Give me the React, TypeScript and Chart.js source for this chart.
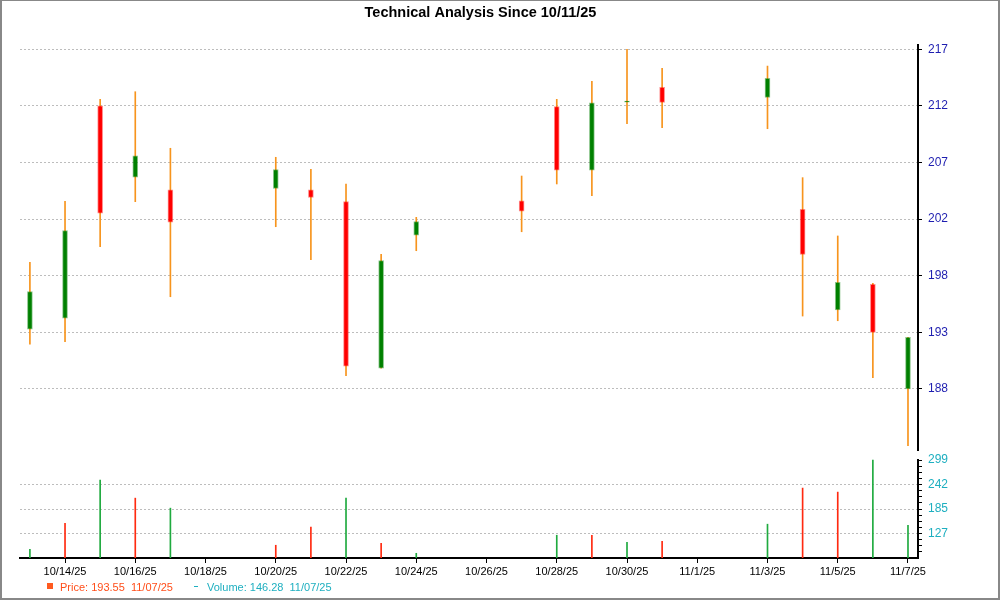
import React, { useEffect, useRef } from "react";
import { Chart, registerables } from "chart.js";

Chart.register(...registerables);

// ---- data ----
const dates = [
  "10/13/25", "10/14/25", "10/15/25", "10/16/25", "10/17/25",
  "10/20/25", "10/21/25", "10/22/25", "10/23/25", "10/24/25",
  "10/27/25", "10/28/25", "10/29/25", "10/30/25", "10/31/25",
  "11/3/25", "11/4/25", "11/5/25", "11/6/25", "11/7/25",
];
const opens = [
  192.99, 193.93, 212.08, 205.99, 204.91,
  205.03, 204.91, 203.89, 189.66, 201.02,
  203.97, 212.0, 206.57, 212.38, 213.65,
  212.8, 203.24, 194.64, 196.83, 187.9,
];
const highs = [
  198.71, 203.92, 212.63, 213.28, 208.45,
  207.68, 206.65, 205.4, 199.39, 202.55,
  206.08, 212.63, 214.17, 216.9, 215.28,
  215.47, 205.94, 200.96, 196.92, 192.31,
];
const lows = [
  191.71, 191.93, 200.04, 203.89, 195.77,
  201.75, 198.93, 189.03, 189.66, 199.7,
  201.32, 205.4, 204.4, 210.55, 210.2,
  210.12, 194.12, 193.72, 188.86, 183.05,
];
const closes = [
  196.2, 201.41, 202.9, 207.81, 202.13,
  206.62, 204.26, 189.85, 198.85, 202.18,
  203.07, 206.57, 212.34, 212.48, 212.37,
  214.42, 199.39, 197.0, 192.73, 192.31,
];
const volumes: (number | null)[] = [
  90.4, 151.3, 252.1, 209.9, 186.5,
  99.8, 142.0, 209.9, 104.5, 81.0,
  null, 123.2, 123.2, 106.8, 109.1,
  149.0, 233.4, 224.0, 299.0, 146.28,
];
const volumeUp = [
  true, false, true, false, true,
  false, false, true, false, true,
  true, true, false, true, false,
  true, false, false, true, true,
];
const xTickLabels = [
  "10/14/25", "10/16/25", "10/18/25", "10/20/25", "10/22/25", "10/24/25",
  "10/26/25", "10/28/25", "10/30/25", "11/1/25", "11/3/25", "11/5/25", "11/7/25",
];
const priceTickValues = [187.9, 192.73, 197.57, 202.4, 207.23, 212.07, 216.9];
const priceTickLabels = ["188", "193", "198", "202", "207", "212", "217"];
const volumeTickValues = [127.25, 184.5, 241.75, 299];
const volumeTickLabels = ["127", "185", "242", "299"];
const volumeMin = 70;
const titleText = "Technical Analysis Since 10/11/25";
const legendPrice = "Price: 193.55  11/07/25";
const legendVolume = "Volume: 146.28  11/07/25";

// ---- helpers ----
function parseDate(s: string): number {
  const [m, d, y] = s.split("/").map(Number);
  return new Date(2000 + y, m - 1, d).getTime();
}
const t0 = parseDate(dates[0]);
const dayOf = (s: string) => Math.round((parseDate(s) - t0) / 86400000);
const dayIndex = dates.map(dayOf);
const xTickIndex = xTickLabels.map(dayOf);

const UP = "#008000";
const DOWN = "#FF0000";

export default function App() {
  const ref = useRef<HTMLCanvasElement>(null);

  useEffect(() => {
    document.body.style.margin = "0";
    const canvas = ref.current!;
    const volStep = (volumeTickValues[1] - volumeTickValues[0]) / 4;
    const volTicks: number[] = [];
    for (let v = volumeTickValues[volumeTickValues.length - 1]; v > volumeMin + 1; v -= volStep) {
      volTicks.push(Math.round(v * 1000) / 1000);
    }
    const isMajorVol = (v: number) => volumeTickValues.some((t) => Math.abs(t - v) < 0.01);

    const decor = {
      id: "decor",
      afterDraw(chart: any) {
        const ctx = chart.ctx as CanvasRenderingContext2D;
        const area = chart.chartArea;
        const yVol = chart.scales.yVol;
        ctx.save();
        // volume axis line
        ctx.strokeStyle = "#000";
        ctx.lineWidth = 2;
        ctx.beginPath();
        ctx.moveTo(area.right, yVol.getPixelForValue(299) - 1);
        ctx.lineTo(area.right, area.bottom + 1);
        ctx.stroke();
        // title
        ctx.fillStyle = "#000";
        ctx.font = "bold 14.5px 'Liberation Sans', Arial, sans-serif";
        ctx.textAlign = "center";
        ctx.textBaseline = "alphabetic";
        ctx.fillText(titleText, 480.5, 17);
        // legend
        ctx.textAlign = "left";
        ctx.font = "11px 'Liberation Sans', Arial, sans-serif";
        ctx.fillStyle = "#FF5A1F";
        ctx.fillRect(47, 583, 6, 6);
        ctx.fillStyle = "#FF4E1A";
        ctx.fillText(legendPrice, 60, 591);
        ctx.fillStyle = "#1EAFC0";
        ctx.fillRect(194, 586, 4, 1);
        ctx.fillText(legendVolume, 207, 591);
        // frame
        ctx.fillStyle = "#888";
        ctx.fillRect(0, 0, 1000, 1);
        ctx.fillRect(0, 0, 2, 600);
        ctx.fillRect(998, 0, 2, 600);
        ctx.fillRect(0, 598, 1000, 2);
        ctx.restore();
      },
    };

    const chart = new Chart(canvas, {
      type: "bar",
      data: {
        datasets: [
          {
            label: "wick",
            data: dayIndex.map((d, i) => ({ x: d, y: [lows[i], highs[i]] })) as any,
            backgroundColor: "#F7941D",
            barThickness: 1,
            grouped: false,
            yAxisID: "yPrice",
            order: 3,
          },
          {
            label: "body",
            data: dayIndex.map((d, i) => ({ x: d, y: [opens[i], closes[i]] })) as any,
            backgroundColor: dayIndex.map((_, i) => (closes[i] >= opens[i] ? UP : DOWN)),
            borderColor: dayIndex.map((_, i) =>
              closes[i] >= opens[i] ? "rgba(0,128,0,0.45)" : "rgba(255,0,0,0.45)"
            ),
            borderWidth: 1,
            borderSkipped: false,
            barThickness: 5,
            grouped: false,
            yAxisID: "yPrice",
            order: 1,
          },
          {
            label: "volume",
            data: dayIndex.map((d, i) => ({ x: d, y: volumes[i] })) as any,
            backgroundColor: volumeUp.map((u) => (u ? "#1FAA3F" : "#FF2A10")),
            barThickness: 1,
            grouped: false,
            yAxisID: "yVol",
            order: 2,
          },
        ],
      },
      options: {
        animation: false,
        responsive: false,
        maintainAspectRatio: false,
        layout: { padding: { left: 20, top: 45, right: 0, bottom: 0 } },
        plugins: { legend: { display: false }, tooltip: { enabled: false }, title: { display: false } },
        scales: {
          x: {
            type: "linear",
            position: "bottom",
            min: -0.282,
            max: 25.285,
            offset: false,
            afterBuildTicks: (s: any) => {
              s.ticks = xTickIndex.map((v) => ({ value: v }));
            },
            afterFit: (s: any) => {
              s.height = 42;
            },
            ticks: {
              autoSkip: false,
              maxRotation: 0,
              padding: 2,
              color: "#000",
              font: { family: "'Liberation Sans', Arial, sans-serif", size: 11 },
              callback: (v: any) => {
                const k = xTickIndex.indexOf(Number(v));
                return k >= 0 ? xTickLabels[k] : "";
              },
            },
            grid: {
              offset: false,
              drawOnChartArea: false,
              drawTicks: true,
              tickLength: 5,
              tickColor: "#000",
              tickWidth: 1,
            },
            border: { display: true, color: "#000", width: 2 },
          },
          yPrice: {
            type: "linear",
            position: "right",
            stack: "main",
            stackWeight: 405,
            min: 182.68,
            max: 217.27,
            afterBuildTicks: (s: any) => {
              s.ticks = priceTickValues.map((v) => ({ value: v }));
            },
            afterFit: (s: any) => {
              s.width = 82;
            },
            ticks: {
              padding: 6,
              color: "#1E1EB0",
              font: { family: "'Liberation Sans', Arial, sans-serif", size: 12 },
              callback: (v: any) => {
                const k = priceTickValues.findIndex((t) => Math.abs(t - Number(v)) < 0.001);
                return k >= 0 ? priceTickLabels[k] : "";
              },
            },
            grid: {
              color: "#BDBDBD",
              lineWidth: 1,
              tickLength: 4,
              tickColor: "#000",
              tickWidth: 1,
              tickBorderDash: [],
            },
            border: { display: true, color: "#000", width: 2, dash: [2, 2] },
          },
          yVol: {
            type: "linear",
            position: "right",
            stack: "main",
            stackWeight: 108,
            min: volumeMin,
            max: 322.4,
            afterBuildTicks: (s: any) => {
              s.ticks = volTicks.map((v) => ({ value: v }));
            },
            afterFit: (s: any) => {
              s.width = 82;
            },
            ticks: {
              padding: 6,
              autoSkip: false,
              color: "#1EAFC0",
              font: { family: "'Liberation Sans', Arial, sans-serif", size: 12 },
              callback: (v: any) => {
                const k = volumeTickValues.findIndex((t) => Math.abs(t - Number(v)) < 0.01);
                return k >= 0 ? volumeTickLabels[k] : "";
              },
            },
            grid: {
              color: (c: any) => {
                const v = c.tick ? c.tick.value : 0;
                return isMajorVol(v) && v < 290 ? "#BDBDBD" : "rgba(0,0,0,0)";
              },
              lineWidth: 1,
              tickLength: 4,
              tickColor: "#000",
              tickWidth: 1,
              tickBorderDash: [],
            },
            border: { display: false, dash: [2, 2] },
          },
        },
      } as any,
      plugins: [decor],
    });
    return () => chart.destroy();
  }, []);

  return (
    <div style={{ width: 1000, height: 600 }}>
      <canvas ref={ref} width={1000} height={600} style={{ display: "block" }} />
    </div>
  );
}
